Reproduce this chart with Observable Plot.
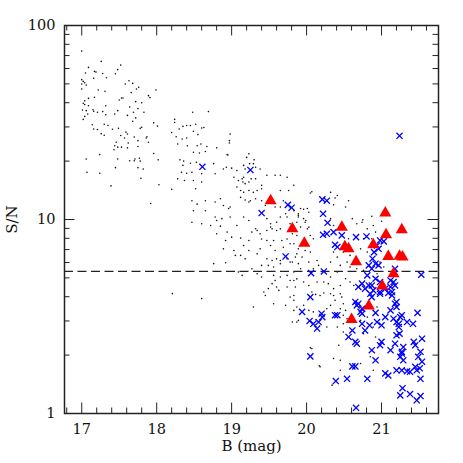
<!DOCTYPE html>
<html><head><meta charset="utf-8">
<script src="https://cdn.jsdelivr.net/npm/d3@7"></script>
<script src="https://cdn.jsdelivr.net/npm/@observablehq/plot@0.6"></script>
<style>html,body{margin:0;padding:0;background:#fff;} #chart svg{display:block;}</style>
</head><body><div id="chart"></div>
<script>
// Axis ticks
const xMajor = [17, 18, 19, 20, 21];
const xMinor = [16.8, 17.2, 17.4, 17.6, 17.8, 18.2, 18.4, 18.6, 18.8, 19.2, 19.4, 19.6, 19.8, 20.2, 20.4, 20.6, 20.8, 21.2, 21.4, 21.6];
const yMajor = [1, 10, 100];
const yMinor = [2, 3, 4, 5, 6, 7, 8, 9, 20, 30, 40, 50, 60, 70, 80, 90];
const snLimit = 5.4;

// Small black dots: [B mag, S/N]
const dotsBright = [[17.00,73.8],[17.26,65.3],[17.52,62.5],[17.09,60.8],[17.48,59.2],[17.17,58.0],[17.19,57.5],[17.05,56.9],[17.45,56.4],[17.28,56.6],[17.33,53.8],[17.16,53.4],[17.00,52.6],[17.02,51.5],[17.04,50.7],[17.00,49.9],[17.06,49.3],[17.63,51.9],[17.58,49.9],[17.68,50.3],[17.76,48.0],[17.73,47.1],[17.66,45.1],[17.00,47.1],[17.22,46.5],[17.31,45.8],[17.89,43.5],[17.91,42.5],[17.99,46.5],[17.17,42.7],[17.50,41.3],[17.53,42.3],[17.55,42.3],[17.72,40.5],[17.80,40.0],[17.09,42.1],[17.04,40.9],[17.02,39.7],[17.04,39.1],[17.32,38.6],[17.64,38.0],[17.75,37.3],[17.09,38.6],[17.83,35.7],[17.69,35.7],[17.15,36.8],[17.16,36.1],[17.28,36.0],[17.21,35.7],[17.01,36.7],[17.06,36.4],[17.04,34.0],[17.02,32.8],[17.08,35.0],[17.32,34.7],[17.48,36.4],[17.61,34.4],[17.44,35.0],[17.72,33.4],[17.68,32.1],[17.96,31.5],[18.01,30.3],[18.48,35.7],[18.24,32.8],[18.24,31.6],[17.14,30.8],[17.30,31.0],[17.35,30.5],[17.41,29.2],[17.16,29.3],[17.21,29.1],[17.49,29.5],[17.26,27.7],[17.30,27.2],[17.59,28.2],[17.61,27.6],[17.52,27.1],[17.57,26.3],[17.78,29.5],[17.80,29.9],[17.87,26.7],[17.86,26.3],[17.70,26.6],[17.75,25.5],[17.89,25.0],[17.46,25.0],[17.44,24.0],[17.48,23.6],[17.53,23.6],[17.62,24.8],[17.61,23.4],[17.43,22.9],[17.75,23.8],[18.35,30.2],[18.40,30.5],[18.45,30.5],[18.30,29.3],[18.20,28.1],[18.26,26.7],[18.34,26.0],[18.40,26.3],[18.28,24.5],[18.41,24.0],[17.96,21.9],[17.24,21.6],[17.48,20.5],[17.71,20.5],[17.77,20.7],[17.70,20.1],[17.78,20.0],[17.64,20.1],[18.02,20.3],[17.06,20.5],[18.31,20.3],[18.36,20.0],[18.35,19.0],[18.33,17.5],[18.40,17.3],[17.45,18.5],[17.75,18.5],[17.82,18.2],[17.79,16.3],[17.07,17.5],[17.24,17.3],[17.39,14.9],[18.03,15.1],[18.20,14.3],[18.28,16.2],[18.37,15.9],[17.92,12.1],[18.21,4.15]];

const dotsMid = [[18.69,36.0],[18.52,31.0],[18.63,29.8],[18.60,29.6],[18.49,28.5],[18.55,27.4],[18.98,27.6],[18.54,24.0],[18.59,24.5],[18.67,23.8],[18.80,23.4],[18.97,24.8],[18.49,22.2],[18.57,22.0],[18.65,22.4],[18.95,21.5],[19.23,21.8],[18.45,19.5],[18.53,19.7],[18.76,19.4],[18.89,18.2],[18.93,18.6],[19.00,18.4],[19.07,17.9],[19.16,19.0],[19.18,18.2],[19.24,19.4],[19.32,18.6],[19.38,18.2],[18.47,17.5],[18.60,17.2],[18.78,17.2],[18.49,15.9],[18.60,15.6],[19.03,16.5],[19.09,15.9],[19.14,16.2],[19.16,16.5],[19.15,15.6],[19.18,15.3],[19.23,15.6],[19.26,16.2],[19.32,16.2],[19.47,16.9],[19.58,16.9],[19.65,16.9],[19.74,16.5],[19.83,15.0],[19.76,14.1],[19.65,14.1],[19.40,15.0],[19.40,14.4],[19.34,14.1],[19.29,13.8],[19.23,14.1],[19.16,13.8],[19.12,14.1],[19.07,14.7],[18.52,14.4],[18.47,12.5],[18.65,12.5],[18.54,12.0],[18.78,12.3],[18.85,12.8],[18.89,11.8],[18.98,11.6],[18.96,11.4],[19.12,13.0],[19.18,12.6],[19.23,12.3],[19.25,12.5],[19.32,12.8],[19.40,12.5],[19.45,11.8],[19.58,11.6],[19.65,11.6],[19.69,12.5],[19.83,11.1],[19.72,10.7],[19.65,10.3],[19.60,9.68],[19.52,9.50],[19.47,10.1],[19.52,9.14],[19.32,8.96],[19.23,9.88],[19.16,10.3],[19.07,9.31],[18.98,10.3],[18.87,10.1],[18.80,9.88],[18.78,10.3],[18.65,11.1],[18.49,11.1],[18.60,9.50],[18.47,9.68],[18.72,9.31],[19.74,10.3],[19.78,9.50],[19.87,9.68],[19.89,10.3],[18.97,25.5],[18.94,21.6],[19.20,20.9],[19.30,20.3],[19.29,19.4]];

const dotsLow = [[18.85,9.24],[18.94,8.61],[18.80,8.44],[19.00,8.11],[19.12,8.02],[18.92,7.80],[18.89,7.06],[19.03,6.92],[19.05,6.53],[19.16,7.35],[19.23,7.80],[19.23,6.92],[19.12,6.53],[19.18,6.27],[19.27,8.61],[19.34,8.77],[19.38,8.44],[19.47,8.77],[19.54,8.95],[19.60,8.77],[19.65,8.95],[19.40,7.94],[19.47,7.80],[19.56,7.80],[19.67,7.80],[19.74,7.94],[19.38,7.06],[19.52,7.35],[19.58,6.92],[19.69,7.20],[19.78,7.50],[19.34,6.65],[19.47,6.27],[19.54,6.15],[19.60,6.27],[19.65,6.15],[19.74,6.27],[19.40,5.80],[19.49,5.80],[19.56,5.69],[19.65,5.92],[19.78,6.03],[19.87,6.65],[19.27,5.57],[19.09,5.36],[19.14,5.15],[19.34,5.25],[19.40,5.05],[19.56,5.15],[19.65,5.05],[19.74,5.15],[19.83,5.36],[19.58,4.85],[19.54,4.67],[19.60,4.49],[19.49,4.40],[19.63,4.31],[19.45,4.06],[19.43,4.23],[19.74,4.49],[19.78,4.85],[19.87,4.94],[19.83,4.06],[19.78,3.98],[18.60,3.91],[19.29,3.54],[19.56,3.68],[19.72,3.61],[19.83,3.40],[19.87,2.96],[18.76,5.92],[18.92,5.98]];

const dotsFaint = [[20.07,13.9],[19.92,11.4],[19.96,11.3],[20.01,11.4],[20.03,10.9],[19.89,10.5],[19.96,10.1],[19.98,9.68],[19.85,8.95],[19.92,9.14],[20.01,8.95],[19.81,8.44],[19.87,8.27],[20.05,8.27],[20.09,7.96],[19.83,7.50],[19.89,7.06],[19.98,6.92],[20.05,6.79],[19.85,6.40],[19.94,6.40],[19.81,6.03],[19.89,5.92],[20.03,6.03],[20.14,6.15],[20.16,5.80],[20.09,5.57],[19.92,5.57],[19.83,4.85],[19.96,4.76],[20.03,4.57],[19.85,4.49],[20.14,4.76],[20.32,13.8],[20.41,13.3],[20.56,12.5],[20.52,11.6],[20.61,10.1],[20.32,10.1],[20.36,9.31],[20.67,9.50],[20.74,9.68],[20.81,8.95],[20.76,7.96],[20.56,7.96],[20.72,7.06],[20.49,6.79],[20.58,6.53],[20.81,6.79],[20.85,7.21],[20.36,6.79],[20.32,6.03],[20.41,6.40],[20.45,5.80],[20.54,6.03],[20.58,5.69],[20.67,5.57],[20.76,5.47],[20.41,5.36],[20.32,5.05],[20.52,4.95],[20.58,4.76],[20.63,4.57],[20.45,4.57],[20.36,4.40],[20.29,4.67],[20.23,4.76],[20.07,4.23],[20.12,4.11],[20.18,4.06],[20.23,4.18],[20.32,4.14],[20.36,4.06],[20.45,4.14],[20.47,3.98],[20.38,3.83],[20.49,3.68],[19.83,3.83],[19.96,3.61],[19.87,3.54],[20.03,3.40],[20.09,3.34],[20.27,3.47],[20.32,3.61],[20.45,3.47],[20.52,3.40],[20.49,3.21],[20.54,3.08],[19.81,2.96],[19.89,3.02],[20.27,2.79],[20.41,2.79],[20.49,2.90],[20.72,3.02],[20.81,3.14],[20.76,2.58],[20.49,2.63],[20.92,2.48],[20.07,2.16],[20.36,1.92],[20.45,1.88],[20.18,1.74],[20.45,1.67],[20.72,1.81],[20.85,1.96],[20.89,1.67],[20.34,1.40],[20.87,10.4],[21.00,9.80],[20.89,9.31],[20.92,8.61],[20.87,7.96],[20.98,6.03],[21.03,5.69],[20.94,5.25],[20.94,3.54],[20.89,2.79],[20.05,13.7],[20.38,12.9],[20.36,11.9],[20.75,9.96],[19.89,10.7],[19.99,9.88],[20.03,9.13],[20.05,2.18],[20.17,1.76],[20.43,2.25]];

// Blue crosses: [B mag, S/N]
const crossesA = [[18.61,18.7],[19.25,18.0],[19.40,10.8],[19.75,11.9],[19.80,11.5],[21.24,27.0],[20.06,5.29],[20.23,5.40],[21.53,5.19],[19.72,6.45],[20.05,3.98],[20.21,12.7],[20.27,12.5],[20.22,10.7],[20.28,9.62],[20.22,8.34],[20.27,8.44],[20.36,8.61],[20.47,8.28],[20.38,7.41],[20.41,7.21],[20.66,8.11],[20.80,8.18],[20.83,5.80],[20.81,5.15],[20.74,4.67],[20.83,4.57],[20.78,4.40],[20.69,4.49]];
const crossesB = [[20.98,7.80],[21.03,7.71],[20.94,7.35],[20.96,7.06],[20.90,6.79],[20.88,6.28],[20.92,5.92],[20.96,5.80],[20.87,5.57],[21.18,5.57],[20.92,4.95],[20.98,4.76],[20.87,4.57],[21.12,4.85],[21.16,4.76],[21.18,4.57],[21.12,4.49],[21.05,4.40],[20.98,4.23],[21.14,4.23],[20.89,4.31]];
const crossesC = [[19.94,3.34],[20.04,3.00],[20.09,2.90],[20.14,2.74],[20.16,2.96],[20.20,3.27],[20.21,3.14],[20.38,3.21],[20.41,3.21],[20.65,3.76],[20.67,3.61],[20.69,3.68],[20.74,3.47],[20.72,3.34],[20.74,3.27],[20.85,4.14],[20.87,3.98],[20.61,2.68],[20.56,2.48],[20.65,2.34],[20.67,2.29],[20.74,2.90],[20.78,2.68],[20.84,2.85],[20.94,2.96],[20.87,2.12],[20.92,1.88],[20.05,1.97],[20.61,1.75],[20.65,1.75],[20.39,1.47],[20.54,1.51],[20.81,1.51],[20.66,1.07]];
const crossesD = [[20.98,4.14],[21.09,4.18],[21.14,4.06],[20.92,3.30],[21.00,2.85],[21.05,3.14],[21.12,3.40],[21.18,3.68],[21.20,3.54],[21.20,3.76],[21.16,3.08],[21.20,2.96],[21.25,3.14],[21.27,3.21],[21.23,2.90],[21.34,2.96],[21.42,2.90],[21.48,3.30],[21.23,2.79],[21.24,2.58],[21.00,2.34],[20.98,2.25],[21.12,2.12],[21.18,2.29],[21.20,2.53],[21.27,2.08],[21.25,1.96],[21.29,1.88],[21.27,2.04],[21.29,2.20],[21.43,2.34],[21.45,2.25],[21.54,2.43],[21.52,2.08],[21.49,1.96],[21.54,1.85],[21.51,1.71],[21.47,1.67],[21.52,1.51],[21.05,1.61],[21.09,1.57],[21.20,1.67],[21.27,1.67],[21.34,1.65],[21.38,1.64],[21.45,1.74],[21.28,1.35],[21.25,1.24],[21.38,1.26],[21.52,1.23],[21.47,1.17]];

// Red triangles: [B mag, S/N]
const triangles = [[19.52,12.5],[19.81,8.95],[19.97,7.54],[20.47,9.12],[20.51,7.23],[20.56,7.06],[20.66,6.05],[20.89,7.42],[21.05,10.8],[21.06,8.35],[21.27,8.86],[21.09,6.45],[21.24,6.47],[21.28,6.40],[21.16,5.26],[21.01,4.54],[20.83,3.58],[20.60,3.05]];

const toObj = ([B, SN]) => ({B, SN});
const dots = [...dotsBright, ...dotsMid, ...dotsLow, ...dotsFaint].map(toObj);
const crosses = [...crossesA, ...crossesB, ...crossesC, ...crossesD].map(toObj);
const tris = triangles.map(toObj);

const W = 463, H = 463, mL = 64, mR = 25, mT = 25, mB = 50;
const fw = W - mL - mR, fh = H - mT - mB;
const majLen = 10.5, minLen = 5.5;
const tickStyle = {stroke: "#222", strokeWidth: 1};

const chart = Plot.plot({
  width: W, height: H,
  marginLeft: mL, marginRight: mR, marginTop: mT, marginBottom: mB,
  style: {fontFamily: "DejaVu Serif", fontSize: "14.5px", color: "#111", background: "#fff"},
  x: {domain: [16.77, 21.76], ticks: xMajor, tickSize: 0, tickPadding: 10, tickFormat: d => String(d), label: null},
  y: {type: "log", domain: [1, 100], ticks: yMajor, tickSize: 0, tickPadding: 9, tickFormat: d => String(d), label: null},
  marks: [
    Plot.dot(dots, {x: "B", y: "SN", r: 0.8, fill: "#111", stroke: null}),
    Plot.ruleY([snLimit], {stroke: "#222", strokeWidth: 1.1, strokeDasharray: "9,4.5"}),
    Plot.dot(crosses, {x: "B", y: "SN", symbol: "times", r: 2.9, stroke: "#0000ff", strokeWidth: 1.3}),
    Plot.dot(tris, {x: "B", y: "SN", symbol: "triangle", r: 4.5, fill: "#ff0000", stroke: null}),
    // inward ticks on all four sides
    Plot.ruleX(xMajor, {...tickStyle, insetTop: fh - majLen}),
    Plot.ruleX(xMinor, {...tickStyle, insetTop: fh - minLen}),
    Plot.ruleX(xMajor, {...tickStyle, insetBottom: fh - majLen}),
    Plot.ruleX(xMinor, {...tickStyle, insetBottom: fh - minLen}),
    Plot.ruleY(yMajor, {...tickStyle, insetRight: fw - majLen}),
    Plot.ruleY(yMinor, {...tickStyle, insetRight: fw - minLen}),
    Plot.ruleY(yMajor, {...tickStyle, insetLeft: fw - majLen}),
    Plot.ruleY(yMinor, {...tickStyle, insetLeft: fw - minLen}),
    Plot.frame({stroke: "#222", strokeWidth: 1.5}),
    Plot.text(["B (mag)"], {text: d => d, frameAnchor: "bottom", dy: 33, textAnchor: "middle", lineAnchor: "middle", fontSize: 15, fill: "#111", letterSpacing: 1}),
    Plot.text(["S/N"], {text: d => d, frameAnchor: "left", dx: -52, rotate: -90, textAnchor: "middle", lineAnchor: "middle", fontSize: 15, fill: "#111"})
  ]
});
document.getElementById("chart").append(chart);
</script>
</body></html>
